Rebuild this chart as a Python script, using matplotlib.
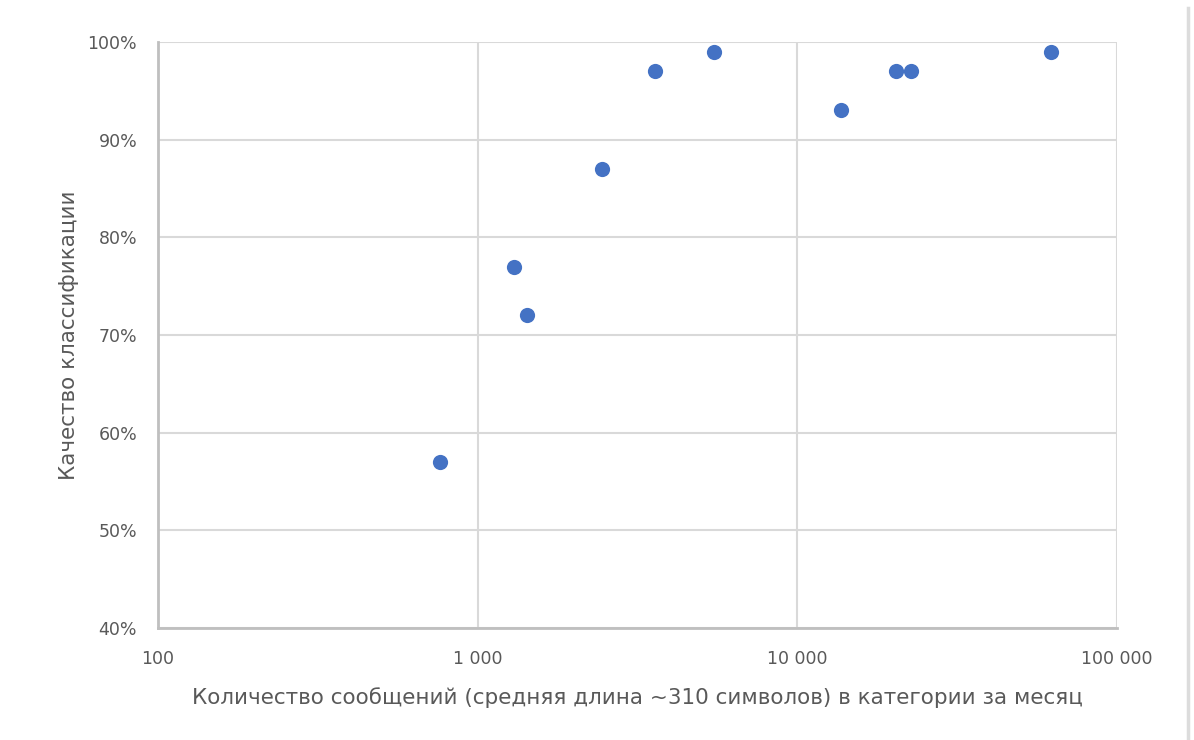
import matplotlib.pyplot as plt
from matplotlib.lines import Line2D
from matplotlib.ticker import FuncFormatter, FixedLocator

# data
messages = [760, 1300, 1430, 2450, 3600, 5500, 13700, 20300, 22600, 62000]
quality = [57, 77, 72, 87, 97, 99, 93, 97, 97, 99]

x_ticks = [100, 1000, 10000, 100000]
y_ticks = [40, 50, 60, 70, 80, 90, 100]

plt.rcParams['font.family'] = ['DejaVu Sans']

fig = plt.figure(figsize=(11.94, 7.4), dpi=100)
ax = fig.add_axes([158 / 1194, 1 - 628 / 740, (1117 - 158) / 1194, (628 - 42) / 740])

ax.scatter(messages, quality, s=120, color='#4472C4', zorder=3, linewidths=0)

ax.set_xscale('log')
ax.set_xlim(100, 100000)
ax.set_ylim(40, 100)
ax.xaxis.set_major_locator(FixedLocator(x_ticks))
ax.xaxis.set_minor_locator(FixedLocator([]))
ax.yaxis.set_major_locator(FixedLocator(y_ticks))

ax.xaxis.set_major_formatter(FuncFormatter(lambda v, p: f"{int(v):,}".replace(",", " ")))
ax.yaxis.set_major_formatter(FuncFormatter(lambda v, p: f"{int(v)}%"))

ax.grid(True, color='#d9d9d9', linewidth=1.5)
ax.set_axisbelow(True)
for s in ['top', 'right']:
    ax.spines[s].set_visible(False)
for s in ['left', 'bottom']:
    ax.spines[s].set_color('#bfbfbf')
    ax.spines[s].set_linewidth(2)

ax.tick_params(length=0, labelsize=12.5, colors='#595959')
ax.tick_params(axis='x', pad=16)
ax.tick_params(axis='y', pad=15)

ax.set_xlabel("Количество сообщений (средняя длина ~310 символов) в категории за месяц",
              fontsize=15.5, color='#595959', labelpad=14)
ax.set_ylabel("Качество классификации", fontsize=15.5, color='#595959', labelpad=6)

# faint border on the right edge of the picture
fig.add_artist(Line2D([1188 / 1194, 1188 / 1194], [0, 1 - 8 / 740],
                      transform=fig.transFigure, color='#dcdcdc', linewidth=2.5))

fig.savefig('out.png', dpi=100)
